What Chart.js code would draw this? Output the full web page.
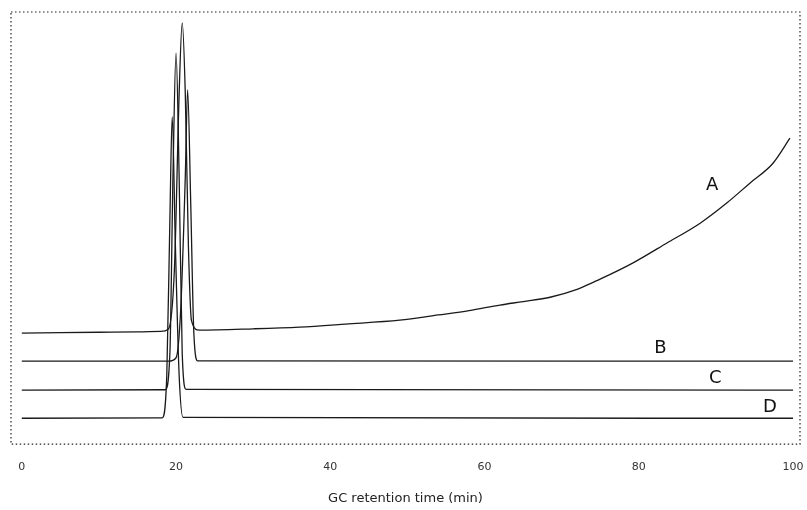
<!DOCTYPE html>
<html>
<head>
<meta charset="utf-8">
<script src="https://cdn.jsdelivr.net/npm/chart.js@4.4.1/dist/chart.umd.min.js"></script>
<style>
  html, body { margin: 0; padding: 0; background: #fff; }
  #wrap { width: 807px; height: 510px; }
</style>
</head>
<body>
<div id="wrap"><canvas id="gcChart"></canvas></div>
<script>
// retention time (min) and detector signal (arbitrary units, stacked traces)
var timeA = [0, 5, 10, 15, 18, 19, 19.8, 20.4, 20.8, 21.2, 21.6, 22, 23, 30, 36, 42, 49, 54, 58, 62, 65, 68.5, 72, 74, 75, 79.2, 83.6, 88, 91.4, 94.4, 97.4, 99.6];
var valA  = [25.7, 25.8, 25.9, 26.0, 26.1, 26.6, 41, 81, 97.5, 81, 46, 28.6, 26.4, 26.7, 27.1, 27.8, 28.7, 29.9, 30.9, 32.2, 33.0, 34.0, 35.8, 37.4, 38.2, 41.9, 46.5, 51.2, 55.8, 60.4, 65.0, 70.8];

var timeB = [0, 19, 20, 20.6, 21.2, 21.5, 21.9, 22.3, 22.8, 100];
var valB  = [19.2, 19.2, 20, 31, 62, 82, 56, 26, 19.3, 19.2];

var timeC = [0, 18.6, 19.2, 19.6, 20, 20.4, 20.8, 21.3, 100];
var valC  = [12.5, 12.6, 21, 62, 90.5, 62, 21, 12.7, 12.5];

var timeD = [0, 18.2, 18.8, 19.2, 19.5, 19.9, 20.4, 20.9, 100];
var valD  = [6.0, 6.1, 16, 52, 75.7, 47, 16, 6.2, 6.0];

var xTicks = [0, 20, 40, 60, 80, 100];

// trace labels placed in data units
var traceNames = ["A", "B", "C", "D"];
var nameX = [89.5, 82.8, 89.9, 97.0];
var nameY = [60.0, 22.2, 15.3, 8.6];

function pts(t, v) {
  return t.map(function (x, i) { return { x: x, y: v[i] }; });
}

var frameAndNames = {
  id: "frameAndNames",
  afterDatasetsDraw: function (chart) {
    var ctx = chart.ctx, a = chart.chartArea;
    ctx.save();
    ctx.strokeStyle = "#222";
    ctx.lineWidth = 1.2;
    ctx.setLineDash([1.5, 2.5]);
    ctx.strokeRect(a.left, a.top, a.right - a.left, a.bottom - a.top);
    ctx.setLineDash([]);
    ctx.fillStyle = "#111";
    ctx.font = "18px 'DejaVu Sans', sans-serif";
    ctx.textAlign = "center";
    ctx.textBaseline = "middle";
    for (var i = 0; i < traceNames.length; i++) {
      var px = chart.scales.x.getPixelForValue(nameX[i]);
      var py = chart.scales.y.getPixelForValue(nameY[i]);
      ctx.fillText(traceNames[i], px, py);
    }
    ctx.restore();
  }
};

var lineStyle = {
  borderColor: "#1a1a1a",
  borderWidth: 1.3,
  pointRadius: 0,
  fill: false,
  cubicInterpolationMode: "monotone"
};

new Chart("gcChart", {
  type: "line",
  data: {
    datasets: [
      Object.assign({ label: "A", data: pts(timeA, valA) }, lineStyle),
      Object.assign({ label: "B", data: pts(timeB, valB) }, lineStyle),
      Object.assign({ label: "C", data: pts(timeC, valC) }, lineStyle),
      Object.assign({ label: "D", data: pts(timeD, valD) }, lineStyle)
    ]
  },
  options: {
    responsive: true,
    maintainAspectRatio: false,
    animation: false,
    layout: { padding: { left: 11, right: 7, top: 12, bottom: 4 } },
    plugins: {
      legend: { display: false },
      tooltip: { enabled: false }
    },
    scales: {
      x: {
        type: "linear",
        min: -1.4,
        max: 100.9,
        afterBuildTicks: function (axis) {
          axis.ticks = xTicks.map(function (v) { return { value: v }; });
        },
        afterFit: function (axis) {
          axis.paddingLeft = 0;
          axis.paddingRight = 0;
        },
        grid: { display: false, drawTicks: false },
        border: { display: false },
        ticks: {
          color: "#333",
          font: { family: "'DejaVu Sans', sans-serif", size: 11 },
          padding: 16,
          maxRotation: 0,
          autoSkip: false
        },
        title: {
          display: true,
          text: "GC retention time (min)",
          color: "#222",
          font: { family: "'DejaVu Sans', sans-serif", size: 13 },
          padding: { top: 1, bottom: 0 }
        }
      },
      y: {
        display: false,
        min: 0,
        max: 100
      }
    }
  },
  plugins: [frameAndNames]
});
</script>
</body>
</html>
